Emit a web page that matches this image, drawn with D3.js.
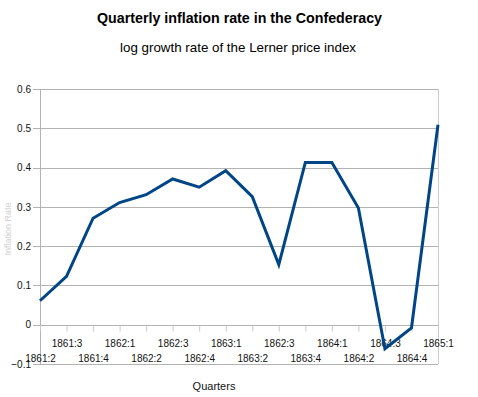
<!DOCTYPE html>
<html><head><meta charset="utf-8">
<script src="https://cdn.jsdelivr.net/npm/d3@7"></script>
<style>body{margin:0;background:#fff}svg{display:block}</style>
</head><body>
<script>
const quarters = ["1861:2","1861:3","1861:4","1862:1","1862:2","1862:3","1862:4","1863:1","1863:2","1862:3","1863:4","1864:1","1864:2","1864:3","1864:4","1865:1"];
const inflation = [0.061,0.123,0.271,0.311,0.331,0.371,0.350,0.392,0.326,0.153,0.413,0.413,0.297,-0.061,-0.008,0.509];
const yTicks = [-0.1,0,0.1,0.2,0.3,0.4,0.5,0.6];
const title = "Quarterly inflation rate in the Confederacy";
const subtitle = "log growth rate of the Lerner price index";
const xTitle = "Quarters";
const yTitle = "Inflation Rate";

const W = 478, H = 397;
const m = {left:40, right:40, top:89, bottom:33};
const svg = d3.select("body").append("svg").attr("width",W).attr("height",H);
const x = d3.scalePoint().domain(d3.range(quarters.length)).range([m.left, W-m.right]);
const y = d3.scaleLinear().domain([-0.1,0.6]).range([H-m.bottom, m.top]);

// gridlines
svg.append("g").selectAll("line").data(yTicks).join("line")
  .attr("x1",m.left-7).attr("x2",W-m.right)
  .attr("y1",d=>Math.round(y(d))+0.5).attr("y2",d=>Math.round(y(d))+0.5)
  .attr("stroke","#b3b3b3").attr("stroke-width",1);
// borders
svg.append("line").attr("x1",m.left+0.5).attr("x2",m.left+0.5).attr("y1",y(0.6)).attr("y2",y(-0.1))
  .attr("stroke","#b3b3b3");
svg.append("line").attr("x1",W-m.right+0.5).attr("x2",W-m.right+0.5).attr("y1",y(0.6)).attr("y2",y(-0.1))
  .attr("stroke","#cccccc");

// y labels
const yAxis = d3.axisLeft(y).tickValues(yTicks).tickSize(0).tickPadding(9)
  .tickFormat(d=> d===0 ? "0" : d3.format("")(+d.toFixed(1)));
const gy = svg.append("g").attr("transform",`translate(${m.left},0)`).call(yAxis);
gy.select(".domain").remove();
gy.selectAll("text").attr("font-family","Liberation Sans, Arial, sans-serif").attr("font-size",10).attr("fill","#111");

// x ticks & labels
const zeroY = Math.round(y(0));
const xAxis = d3.axisBottom(x).tickSize(6).tickFormat(i=>quarters[i]);
const gx = svg.append("g").attr("transform",`translate(0,${zeroY+0.5})`).call(xAxis);
gx.select(".domain").remove();
gx.selectAll(".tick line").attr("stroke","#c8c8c8");
gx.selectAll(".tick text")
  .attr("y",(d,i)=> i%2===1 ? 21.5 : 36.5)
  .attr("dy",0)
  .attr("font-family","Liberation Sans, Arial, sans-serif").attr("font-size",10).attr("fill","#111");

// line
svg.append("path").datum(inflation)
  .attr("d", d3.line().x((d,i)=>x(i)).y(d=>y(d)))
  .attr("fill","none").attr("stroke","#004586").attr("stroke-width",3)
  .attr("stroke-linejoin","miter");

// titles
svg.append("text").attr("x",239.5).attr("y",23).attr("text-anchor","middle")
  .attr("font-family","Liberation Sans, Arial, sans-serif").attr("font-weight","bold").attr("font-size",15)
  .attr("textLength",285).attr("lengthAdjust","spacingAndGlyphs").text(title);
svg.append("text").attr("x",238).attr("y",52).attr("text-anchor","middle")
  .attr("font-family","Liberation Sans, Arial, sans-serif").attr("font-size",13)
  .attr("textLength",236).attr("lengthAdjust","spacingAndGlyphs").text(subtitle);
svg.append("text").attr("x",214).attr("y",390).attr("text-anchor","middle")
  .attr("font-family","Liberation Sans, Arial, sans-serif").attr("font-size",11).attr("fill","#111").text(xTitle);
svg.append("text").attr("transform","translate(11,229) rotate(-90)").attr("text-anchor","middle")
  .attr("font-family","Liberation Sans, Arial, sans-serif").attr("font-size",9).attr("fill","#cfcfcf").text(yTitle);
</script>
</body></html>
